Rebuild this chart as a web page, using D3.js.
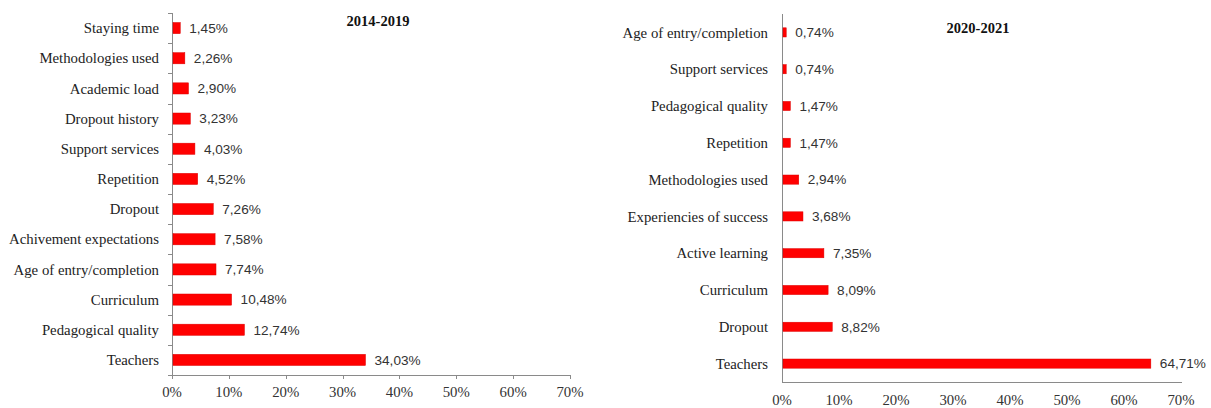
<!DOCTYPE html>
<html><head><meta charset="utf-8">
<script src="https://cdn.jsdelivr.net/npm/d3@7"></script>
<style>body{margin:0;background:#fff;}svg{display:block;}
.serif{font-family:"Liberation Serif","Times New Roman",Times,serif;}
.sans{font-family:"Liberation Sans",Arial,sans-serif;}
</style>
</head><body><svg id="c" width="1211" height="408"></svg>
<script>
const leftTitle = "2014-2019";
const leftCategories = ["Staying time","Methodologies used","Academic load","Dropout history","Support services","Repetition","Dropout","Achivement expectations","Age of entry/completion","Curriculum","Pedagogical quality","Teachers"];
const leftValues = [1.45,2.26,2.90,3.23,4.03,4.52,7.26,7.58,7.74,10.48,12.74,34.03];
const rightTitle = "2020-2021";
const rightCategories = ["Age of entry/completion","Support services","Pedagogical quality","Repetition","Methodologies used","Experiencies of success","Active learning","Curriculum","Dropout","Teachers"];
const rightValues = [0.74,0.74,1.47,1.47,2.94,3.68,7.35,8.09,8.82,64.71];
const xTicks = [0,10,20,30,40,50,60,70];

const svg = d3.select("#c");
const fmt = v => v.toFixed(2).replace(".", ",") + "%";

function panel(cfg){
  const g = svg.append("g");
  const x = d3.scaleLinear().domain([0,70]).range([cfg.x0, cfg.x1]);
  const y = d3.scaleBand().domain(cfg.cats).range([cfg.y0, cfg.y1]).paddingInner(cfg.pad).paddingOuter(cfg.pad/2);
  const step = y.step();
  g.append("line").attr("x1",cfg.x0+0.5).attr("x2",cfg.x0+0.5).attr("y1",cfg.y0).attr("y2",cfg.y1)
    .attr("stroke","#8a8a8a").attr("stroke-width",1);
  g.append("line").attr("x1",cfg.x0).attr("x2",cfg.x1+1).attr("y1",cfg.y1+0.5).attr("y2",cfg.y1+0.5)
    .attr("stroke","#8a8a8a").attr("stroke-width",1);
  if(cfg.ticks){
    g.selectAll(".yt").data(d3.range(cfg.cats.length+1)).enter().append("line")
      .attr("x1",cfg.x0-4).attr("x2",cfg.x0).attr("y1",i=>Math.round(cfg.y0+i*step)+0.5).attr("y2",i=>Math.round(cfg.y0+i*step)+0.5)
      .attr("stroke","#8a8a8a");
    g.selectAll(".xt").data(xTicks).enter().append("line")
      .attr("x1",d=>Math.round(x(d))+0.5).attr("x2",d=>Math.round(x(d))+0.5).attr("y1",cfg.y1).attr("y2",cfg.y1+4)
      .attr("stroke","#8a8a8a");
  }
  g.selectAll(".xl").data(xTicks).enter().append("text").attr("class","serif")
    .attr("x",d=>x(d)).attr("y",cfg.tickY).attr("text-anchor","middle")
    .attr("font-size",14.8).attr("fill","#333")
    .text(d=>d+"%");
  g.selectAll(".cl").data(cfg.cats).enter().append("text").attr("class","serif")
    .attr("x",cfg.x0-cfg.labGap).attr("y",d=>y(d)+y.bandwidth()/2).attr("dy","0.35em").attr("text-anchor","end")
    .attr("font-size",14.8).attr("fill","#222")
    .text(d=>d);
  g.selectAll(".b").data(cfg.vals).enter().append("rect")
    .attr("x",cfg.x0+1).attr("y",(d,i)=>y(cfg.cats[i])).attr("height",y.bandwidth())
    .attr("width",d=>x(d)-cfg.x0-1).attr("fill","#ff0000").attr("stroke","#dd0000").attr("stroke-width",0.5);
  g.selectAll(".v").data(cfg.vals).enter().append("text").attr("class","sans")
    .attr("x",d=>x(d)+9).attr("y",(d,i)=>y(cfg.cats[i])+y.bandwidth()/2).attr("dy","0.36em")
    .attr("font-size",13.6).attr("fill","#333")
    .text(d=>fmt(d));
  g.append("text").attr("class","serif").attr("x",cfg.titleX).attr("y",cfg.titleY).attr("text-anchor","middle")
    .attr("font-weight","bold").attr("font-size",14.5).attr("fill","#111")
    .text(cfg.title);
}

panel({cats:leftCategories, vals:leftValues, title:leftTitle, x0:172, x1:570, y0:13, y1:375, pad:0.63,
  ticks:true, tickY:397, labGap:13, titleX:378, titleY:26});
panel({cats:rightCategories, vals:rightValues, title:rightTitle, x0:782, x1:1181, y0:14, y1:382, pad:0.75,
  ticks:false, tickY:405, labGap:14, titleX:978, titleY:33});
</script></body></html>
